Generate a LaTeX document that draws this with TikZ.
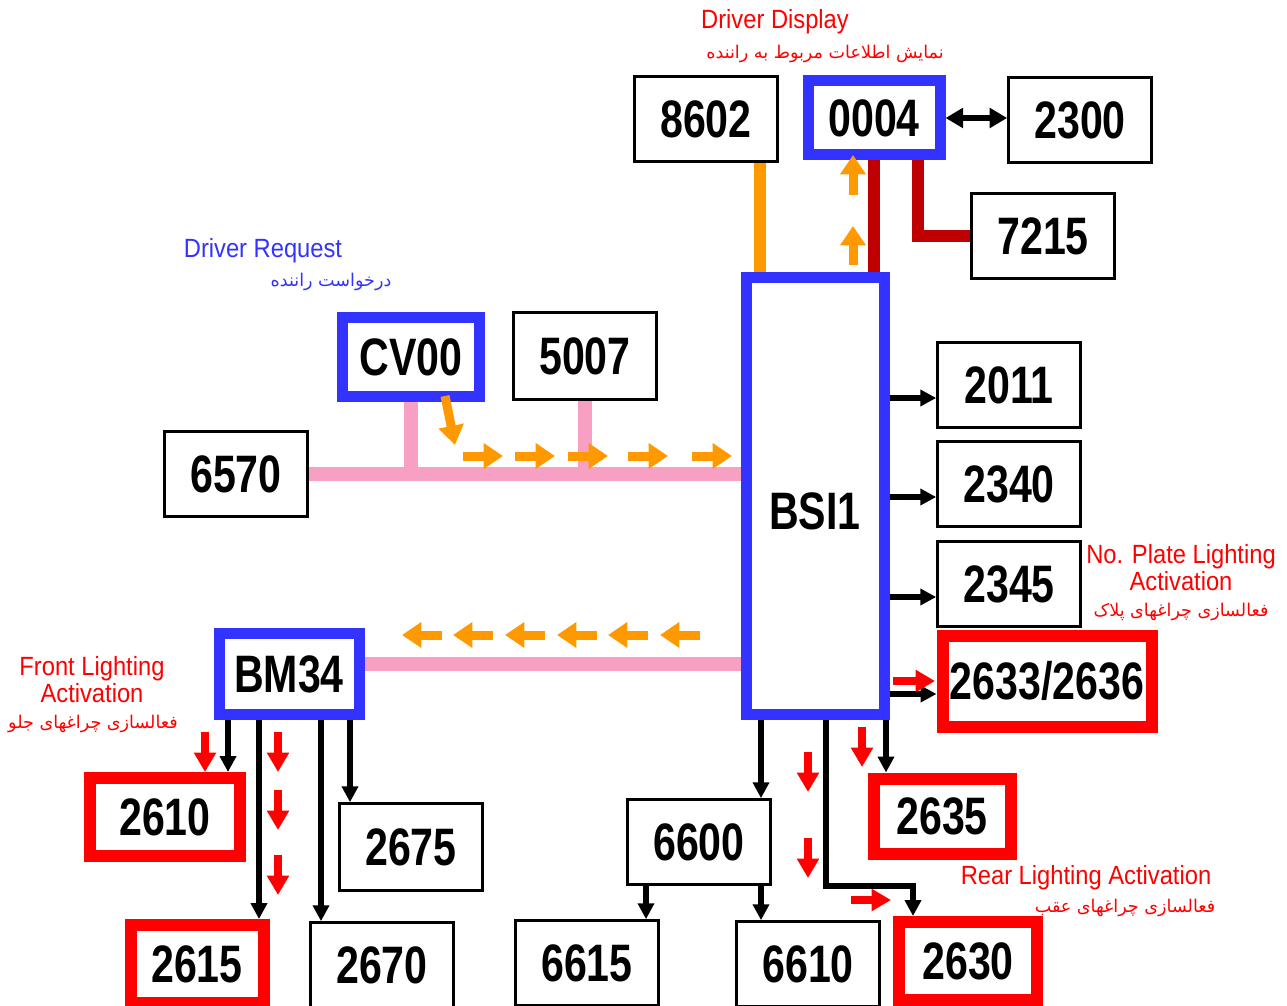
\documentclass[tikz,border=0pt]{standalone}
\usepackage{fontspec}
\setmainfont{Liberation Sans}
\newfontfamily\numfont[FakeStretch=0.78]{Liberation Sans}
\newfontfamily\lblfont[FakeStretch=0.9]{Liberation Sans}
\newfontfamily\fafont[Script=Arabic]{DejaVu Sans}
\TeXXeTstate=1
\usetikzlibrary{arrows.meta,calc}
\definecolor{vblue}{RGB}{51,51,255}
\definecolor{vred}{RGB}{255,0,0}
\definecolor{dred}{RGB}{192,0,0}
\definecolor{vorange}{RGB}{255,153,0}
\definecolor{vpink}{RGB}{247,160,196}
\newdimen\pxu \pxu=0.02cm
\begin{document}
\begin{tikzpicture}[x=0.02cm,y=-0.02cm]
    \tikzset{
      box/.style={draw,line width=1.5pt,fill=white,inner sep=0pt,
        minimum width=143\pxu,minimum height=85\pxu,
        font=\numfont\bfseries\fontsize{30}{30}\selectfont},
      bluebox/.style={box,draw=vblue,line width=11\pxu},
      redbox/.style={box,draw=vred,line width=12\pxu},
      blk/.style={line width=6\pxu,-{Triangle[length=9pt,width=9pt]}},
      obus/.style={vorange,line width=12\pxu},
      rbus/.style={dred,line width=12\pxu},
      pbus/.style={vpink,line width=14\pxu},
      oarr/.style={vorange,line width=9\pxu,-{Triangle[length=11pt,width=14pt]}},
      rarr/.style={vred,line width=8\pxu,-{Triangle[length=11pt,width=12pt]}},
      lbl/.style={inner sep=0pt,align=center,font=\lblfont\fontsize{15}{15.3}\selectfont},
      fa/.style={inner sep=0pt,font=\fafont\fontsize{10}{12}\selectfont},
    }
    \useasboundingbox (0,0) rectangle (1287,1006);
    %
    \node[box] (n8602) at (706,119) {8602};
    \node[bluebox,minimum width=132\pxu,minimum height=74\pxu] (n0004) at (874,118) {0004};
    \node[box] (n2300) at (1080,120) {2300};
    \node[box] (n7215) at (1043,236) {7215};
    \node[bluebox,minimum width=138\pxu,minimum height=437\pxu,text height=38pt,text depth=0pt] (bsi) at (815,496) {BSI1};
    \node[box] (n2011) at (1009,385) {2011};
    \node[box] (n2340) at (1009,484) {2340};
    \node[box] (n2345) at (1009,584) {2345};
    \node[redbox,minimum width=209\pxu,minimum height=91\pxu] (n2633) at (1047,681) {2633/2636};
    \node[redbox,minimum width=137\pxu,minimum height=75\pxu] (n2635) at (942,816) {2635};
    \node[redbox,minimum width=138\pxu,minimum height=78\pxu] (n2630) at (968,961) {2630};
    \node[box] (n6600) at (699,842) {6600};
    \node[box] (n6615) at (587,963) {6615};
    \node[box] (n6610) at (808,964) {6610};
    \node[redbox,minimum width=150\pxu,minimum height=78\pxu] (n2610) at (165,817) {2610};
    \node[redbox,minimum width=133\pxu,minimum height=78\pxu] (n2615) at (197,964) {2615};
    \node[box,minimum height=87\pxu] (n2675) at (411,847) {2675};
    \node[box] (n2670) at (382,965) {2670};
    \node[bluebox,minimum width=140\pxu,minimum height=81\pxu] (bm34) at (289,674) {BM34};
    \node[box] (n6570) at (236,474) {6570};
    \node[bluebox,minimum width=137\pxu,minimum height=79\pxu] (cv00) at (411,357) {CV00};
    \node[box,minimum height=87\pxu] (n5007) at (585,356) {5007};
    %
    \coordinate (p8602) at ($(n8602.south)+(54,0)$);
    \draw[obus] (p8602) -- (p8602 |- bsi.north);
    \draw[rbus] (n0004.south) -- (n0004.south |- bsi.north);
    \coordinate (p7215) at ($(n0004.south)+(44,0)$);
    \draw[rbus] (p7215) |- (n7215.west);
    \draw[line width=6\pxu,{Triangle[length=10pt,width=11pt]}-{Triangle[length=10pt,width=11pt]}]
      (n0004.east) -- (n0004.east -| n2300.west);
    %
    \draw[pbus] (n6570.east) -- (n6570.east -| bsi.west);
    \draw[pbus] (cv00.south) -- (cv00.south |- n6570.east);
    \draw[pbus] (n5007.south) -- (n5007.south |- n6570.east);
    \coordinate (pbm) at ($(bm34.east)+(0,-10)$);
    \draw[pbus] (pbm) -- (pbm -| bsi.west);
    %
    \foreach \n in {2011,2340,2345,2633}{
      \coordinate (r\n) at ($(n\n.west)+(0,13)$);
      \draw[blk] (r\n -| bsi.east) -- (r\n);
    }
    \coordinate (s6600) at ($(bsi.south)+(-54,0)$);
    \draw[blk] (s6600) -- (s6600 |- n6600.north);
    \coordinate (s2635) at ($(bsi.south)+(71,0)$);
    \draw[blk] (s2635) -- (s2635 |- n2635.north);
    \coordinate (s2630) at ($(bsi.south)+(11,0)$);
    \coordinate (t2630) at ($(n2630.north)+(-55,0)$);
    \draw[blk] (s2630) -- (s2630 |- n6600.south) -| (t2630);
    \coordinate (s6615) at ($(n6600.south)+(-53,0)$);
    \draw[blk] (s6615) -- (s6615 |- n6615.north);
    \coordinate (s6610) at ($(n6600.south)+(62,0)$);
    \draw[blk] (s6610) -- (s6610 |- n6610.north);
    \foreach \dx/\t in {-61/n2610,-30/n2615,32/n2670,61/n2675}{
      \coordinate (q\t) at ($(bm34.south)+(\dx,0)$);
      \draw[blk] (q\t) -- (q\t |- \t.north);
    }
    %
    \foreach \x in {463,515,568,628,692} \draw[oarr] (\x,456) -- ++(40,0);
    \foreach \x in {442,493,545,597,648,700} \draw[oarr] (\x,635) -- ++(-40,0);
    \draw[oarr] (445,396) -- (455,445);
    \draw[oarr] (853,195) -- (853,155);
    \draw[oarr] (853,265) -- (853,226);
    \foreach \x/\y in {205/732,278/732,278/790,278/855,862/727,808/752,808/838}
      \draw[rarr] (\x,\y) -- ++(0,40);
    \draw[rarr] (851,900) -- ++(40,0);
    \draw[rarr] (893,681) -- ++(42,0);
    %
    \node[lbl,text=vred] (dd) at (775,22) {Driver Display};
    \node[fa,text=vred] (ddfa) at (825,54) {\beginR نمایش اطلاعات مربوط به راننده\endR};
    \node[lbl,text=vblue] (dr) at (263,251) {Driver Request};
    \node[fa,text=vblue] (drfa) at (331,282) {\beginR درخواست راننده\endR};
    \node[lbl,text=vred] (np) at (1181,568) {No. Plate Lighting\\Activation};
    \node[fa,text=vred] (npfa) at (1181,612) {\beginR فعالسازی چراغهای پلاک\endR};
    \node[lbl,text=vred] (fl) at (92,680) {Front Lighting\\Activation};
    \node[fa,text=vred] (flfa) at (93,724) {\beginR فعالسازی چراغهای جلو\endR};
    \node[lbl,text=vred] (rl) at (1086,878) {Rear Lighting Activation};
    \node[fa,text=vred] (rlfa) at (1125,908) {\beginR فعالسازی چراغهای عقب\endR};
\end{tikzpicture}
\end{document}
